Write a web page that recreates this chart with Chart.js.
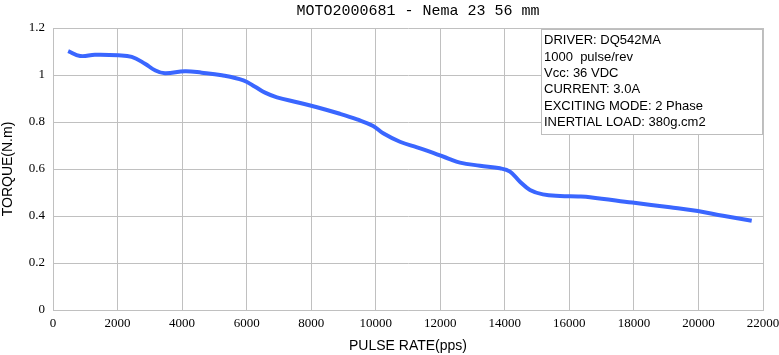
<!DOCTYPE html>
<html><head><meta charset="utf-8">
<script src="https://cdn.jsdelivr.net/npm/chart.js@4/dist/chart.umd.min.js"></script>
<style>html,body{margin:0;padding:0;background:#fff}#wrap{width:779px;height:355px}</style>
</head><body><div id="wrap"><canvas id="c" width="779" height="355"></canvas></div>
<script>
const pulseRate = [470, 840, 1300, 2020, 2440, 2850, 3160, 3470, 4090, 4610, 5230, 5900, 6260, 6570, 6940, 7560, 8180, 8890, 9420, 9920, 10230, 10750, 11280, 11780, 12270, 12610, 13230, 13850, 14160, 14470, 14780, 15180, 15710, 16270, 16640, 17950, 19120, 19980, 20760, 21650];
const torque = [1.102, 1.081, 1.086, 1.084, 1.077, 1.048, 1.020, 1.007, 1.016, 1.010, 0.999, 0.977, 0.950, 0.925, 0.905, 0.884, 0.863, 0.835, 0.811, 0.783, 0.752, 0.716, 0.692, 0.669, 0.643, 0.627, 0.614, 0.603, 0.589, 0.546, 0.511, 0.492, 0.485, 0.483, 0.480, 0.457, 0.437, 0.421, 0.401, 0.380];
const infoLines = ["DRIVER: DQ542MA", "1000  pulse/rev", "Vcc: 36 VDC", "CURRENT: 3.0A", "EXCITING MODE: 2 Phase", "INERTIAL LOAD: 380g.cm2"];
const titleText = "MOTO2000681 - Nema 23 56 mm";

const overlay = {
  id: 'overlay',
  afterDraw(chart) {
    const ctx = chart.ctx;
    ctx.save();
    // title
    ctx.fillStyle = '#000';
    ctx.font = '15px "Liberation Mono", monospace';
    ctx.textAlign = 'center';
    ctx.textBaseline = 'middle';
    ctx.fillText(titleText, 418, 11);
    // info box
    const x = 541, y = 29, w = 221, h = 105;
    ctx.fillStyle = '#fff';
    ctx.fillRect(x, y, w, h);
    ctx.strokeStyle = '#bdbdbd';
    ctx.lineWidth = 1;
    ctx.strokeRect(x + 0.5, y + 0.5, w, h);
    ctx.fillStyle = '#000';
    ctx.font = '13px "Liberation Sans", Arial, sans-serif';
    ctx.textAlign = 'left';
    const ys = [40, 57, 73, 89, 106, 122];
    infoLines.forEach((t, i) => ctx.fillText(t, 544, ys[i]));
    ctx.restore();
  }
};

new Chart(document.getElementById('c'), {
  type: 'line',
  data: {
    datasets: [{
      data: pulseRate.map((p, i) => ({x: p, y: torque[i]})),
      borderColor: '#3a66ff',
      borderWidth: 4,
      pointRadius: 0,
      tension: 0.4,
      fill: false
    }]
  },
  options: {
    responsive: false,
    animation: false,
    layout: {padding: {left: 0, right: 16, top: 28, bottom: 0}},
    plugins: {
      legend: {display: false},
      tooltip: {enabled: false},
      title: {display: false}
    },
    scales: {
      x: {
        type: 'linear', min: 0, max: 22000,
        ticks: {stepSize: 2000, color: '#000', padding: 6, maxRotation: 0,
          callback: v => String(v),
          font: {family: '"Liberation Serif", serif', size: 13}},
        grid: {color: '#c0c0c0', drawTicks: false},
        border: {color: '#c0c0c0'},
        title: {display: true, text: 'PULSE RATE(pps)', color: '#000', padding: {top: 4, bottom: 0},
          font: {family: '"Liberation Sans", Arial, sans-serif', size: 14}},
        afterFit(s) { s.height = 45; s.paddingRight = 0; s.paddingLeft = 0; }
      },
      y: {
        min: 0, max: 1.2,
        ticks: {stepSize: 0.2, color: '#000', padding: 8,
          callback: v => String(Math.round(v * 10) / 10),
          font: {family: '"Liberation Serif", serif', size: 13}},
        grid: {color: '#c0c0c0', drawTicks: false},
        border: {color: '#c0c0c0'},
        title: {display: true, text: 'TORQUE(N.m)', color: '#000', padding: {top: 0, bottom: 2},
          font: {family: '"Liberation Sans", Arial, sans-serif', size: 14}},
        afterFit(s) { s.width = 53; s.paddingTop = 0; s.paddingBottom = 0; }
      }
    }
  },
  plugins: [overlay]
});
</script>
</body></html>
